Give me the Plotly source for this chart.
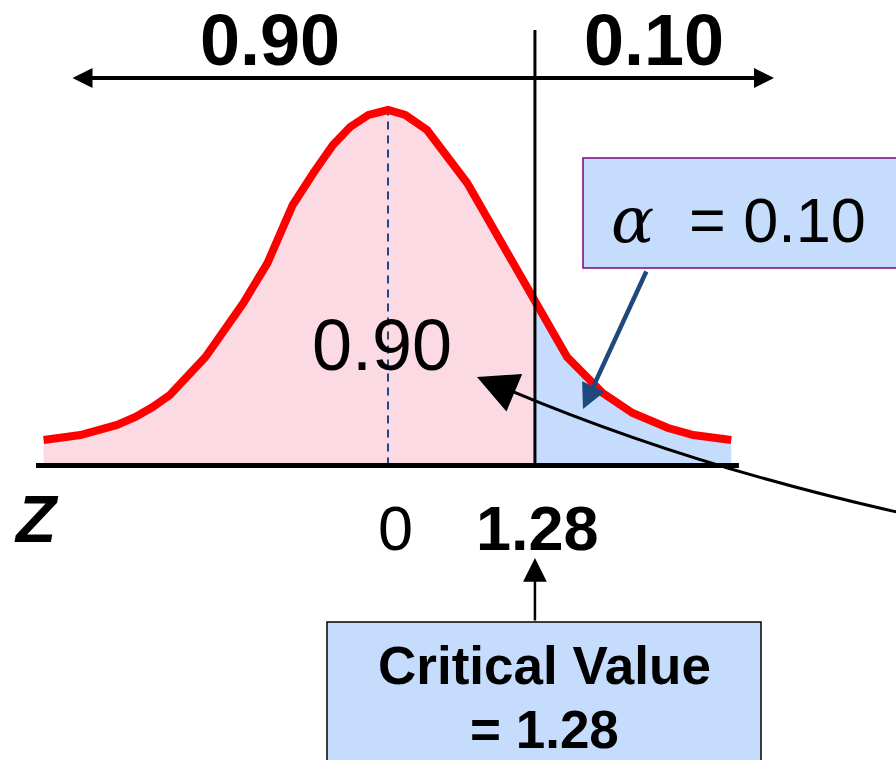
import plotly.graph_objects as go

W, H = 896, 760

# ---- data ----
z_vals = [-3.00, -2.68, -2.36, -2.20, -2.05, -1.90, -1.59, -1.26, -1.05, -0.83,
          -0.65, -0.48, -0.33, -0.17, 0.00, 0.15, 0.34, 0.48, 0.69, 0.86,
          1.06, 1.28, 1.56, 1.87, 2.13, 2.44, 2.66, 2.99]
density = [0.0287, 0.0343, 0.0456, 0.0546, 0.0658, 0.0793, 0.1221, 0.1828, 0.2278, 0.2931,
           0.3291, 0.3606, 0.3809, 0.3944, 0.4000, 0.3944, 0.3775, 0.3550, 0.3178, 0.2796,
           0.2346, 0.1806, 0.1221, 0.0816, 0.0591, 0.0422, 0.0343, 0.0287]
z_crit = 1.28
conf_label = "0.90"
alpha_label = "0.10"
tick_labels = ["0", "1.28"]

# ---- colours ----
RED = "#FF0000"
PINK = "rgb(251,218,227)"
LBLUE = "rgb(197,220,252)"
DBLUE = "#1F497D"
PURPLE = "#800080"
FONT = "Liberation Sans"

# ---- axis mapping (layout) ----
X0_PX, PX_PER_Z = 388, 114.8
Y0_PX, PX_PER_V = 465.5, 888.75
xrange = [(0 - X0_PX) / PX_PER_Z, (W - X0_PX) / PX_PER_Z]
yrange = [(Y0_PX - H) / PX_PER_V, Y0_PX / PX_PER_V]


def px(x):
    return x / W


def py(y):
    return 1 - y / H


def vy(ypix):
    return (Y0_PX - ypix) / PX_PER_V


z_left = [z for z in z_vals if z <= z_crit]
d_left = [d for z, d in zip(z_vals, density) if z <= z_crit]
z_right = [z for z in z_vals if z >= z_crit]
d_right = [d for z, d in zip(z_vals, density) if z >= z_crit]

fig = go.Figure()
fig.add_trace(go.Scatter(x=z_left, y=d_left, mode="lines", fill="tozeroy",
                         fillcolor=PINK, line=dict(width=0), hoverinfo="skip"))
fig.add_trace(go.Scatter(x=z_right, y=d_right, mode="lines", fill="tozeroy",
                         fillcolor=LBLUE, line=dict(width=0), hoverinfo="skip"))
fig.add_trace(go.Scatter(x=[0, 0], y=[0, max(density)], mode="lines",
                         line=dict(color=DBLUE, width=2, dash="8px,6px"), hoverinfo="skip"))
fig.add_trace(go.Scatter(x=z_vals, y=density, mode="lines",
                         line=dict(color=RED, width=8), hoverinfo="skip"))

shapes = [
    # baseline
    dict(type="line", xref="x", yref="y", x0=min(z_vals) - 0.066, x1=max(z_vals) + 0.067,
         y0=0, y1=0, line=dict(color="black", width=5), layer="above"),
    # critical value line
    dict(type="line", xref="x", yref="y", x0=z_crit, x1=z_crit, y0=0, y1=vy(30),
         line=dict(color="black", width=3), layer="above"),
    # alpha box
    dict(type="rect", xref="paper", yref="paper", x0=px(583), x1=px(905), y0=py(268), y1=py(158),
         fillcolor=LBLUE, line=dict(color=PURPLE, width=1.5), layer="above"),
    # critical value box
    dict(type="rect", xref="paper", yref="paper", x0=px(327), x1=px(761), y0=py(790), y1=py(622),
         fillcolor=LBLUE, line=dict(color="black", width=1.5), layer="above"),
    # curved connector
    dict(type="path", xref="paper", yref="paper",
         path=f"M {px(915)},{py(516)} Q {px(687)},{py(466.5)} {px(495)},{py(384)}",
         line=dict(color="black", width=3), layer="above"),
]

annotations = []
# double-headed arrow at top
annotations.append(dict(xref="paper", yref="paper", x=px(774), y=py(78),
                        axref="pixel", ayref="pixel", ax=-(774 - 71), ay=0,
                        showarrow=True, arrowside="end+start", arrowhead=2, startarrowhead=2,
                        arrowsize=1.0, startarrowsize=1.0, arrowwidth=4, arrowcolor="black", text=""))
# arrow up to critical value
annotations.append(dict(xref="x", yref="paper", x=z_crit, y=py(558),
                        ax=0, ay=622 - 558, showarrow=True, arrowhead=2, arrowsize=1.9,
                        arrowwidth=2.5, arrowcolor="black", text=""))
# alpha arrow
annotations.append(dict(xref="paper", yref="paper", x=px(583), y=py(409),
                        ax=647 - 583, ay=270 - 409, showarrow=True, arrowhead=2, arrowsize=1.1,
                        arrowwidth=4.5, arrowcolor=DBLUE, text=""))
# head of curved connector
annotations.append(dict(xref="paper", yref="paper", x=px(477), y=py(377),
                        ax=32, ay=13.5, showarrow=True, arrowhead=2, arrowsize=2.7,
                        arrowwidth=3, arrowcolor="black", text=""))


def label(text, x, y, size, bold=False, family=FONT):
    t = f"<b>{text}</b>" if bold else text
    annotations.append(dict(xref="paper", yref="paper", x=px(x), y=py(y), text=t,
                            showarrow=False, xanchor="center", yanchor="middle",
                            font=dict(family=family, size=size, color="black")))


label(conf_label, 270, 40, 72, bold=True)
label(alpha_label, 654, 40, 72, bold=True)
label(conf_label, 382, 345, 72)
label("<i>α</i>", 632, 220, 64, family="DejaVu Serif")
label(f"= {alpha_label}", 777, 220, 63)
label("<b><i>Z</i></b>", 36, 519, 66)
label(tick_labels[0], 395, 528, 63)
label(tick_labels[1], 537, 528, 63, bold=True)
label("Critical Value", 544, 665, 53, bold=True)
label(f"= {tick_labels[1]}", 544, 729, 53, bold=True)

fig.update_layout(
    width=W, height=H, margin=dict(l=0, r=0, t=0, b=0),
    paper_bgcolor="white", plot_bgcolor="white", showlegend=False,
    xaxis=dict(visible=False, range=xrange, fixedrange=True),
    yaxis=dict(visible=False, range=yrange, fixedrange=True),
    shapes=shapes, annotations=annotations,
)

fig.write_html("out.html", config={"displayModeBar": False},
               post_script="document.body.style.margin='0px';document.body.style.overflow='hidden';")
